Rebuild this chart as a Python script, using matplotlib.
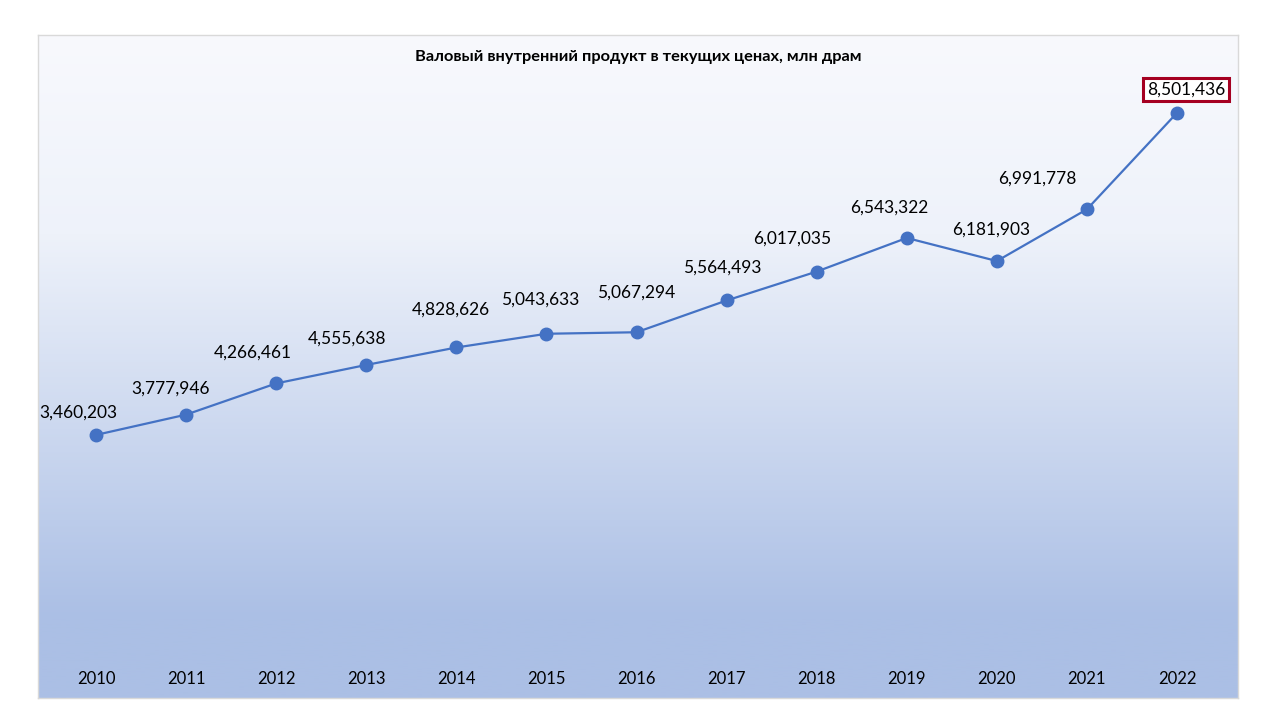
import matplotlib.pyplot as plt
import numpy as np
from matplotlib.colors import LinearSegmentedColormap

years = [2010, 2011, 2012, 2013, 2014, 2015, 2016, 2017, 2018, 2019, 2020, 2021, 2022]
gdp = [3460203, 3777946, 4266461, 4555638, 4828626, 5043633, 5067294,
       5564493, 6017035, 6543322, 6181903, 6991778, 8501436]
title = "Валовый внутренний продукт в текущих ценах, млн драм"

# label offsets in pixels (dx, dy), as placed in the original
offsets = [(-18, 22), (-16, 26), (-23, 31), (-19, 26), (-6, 38), (-6, 34), (0, 40),
           (-4, 33), (-24, 33), (-18, 30), (-6, 31), (-50, 31), (9, 23)]

plt.rcParams['font.family'] = ['Lato', 'DejaVu Sans']

fig = plt.figure(figsize=(12.8, 7.2), dpi=100)
# plot frame: x 38..1238, y 35..698 px
ax = fig.add_axes([38 / 1280, 1 - 698 / 720, 1200 / 1280, 663 / 720])

x0, x1 = 2009.356, 2022.677
y0, y1 = -657600, 9720000

# gradient background, white at top to light blue at bottom
cmap = LinearSegmentedColormap.from_list(
    'bg', [(0, '#f8f9fd'), (0.3, '#eef2fa'), (0.88, '#abbfe5'), (1, '#abbfe5')])
grad = np.linspace(0, 1, 256).reshape(-1, 1)
ax.imshow(grad, cmap=cmap, aspect='auto', extent=[x0, x1, y0, y1],
          zorder=0, origin='upper')
ax.set_xlim(x0, x1)
ax.set_ylim(y0, y1)

ax.plot(years, gdp, color='#4472c4', linewidth=1.6, marker='o', markersize=9,
        markerfacecolor='#4472c4', markeredgecolor='#4472c4', zorder=3)

for i, (yr, v) in enumerate(zip(years, gdp)):
    dx, dy = offsets[i]
    kw = {}
    if i == len(years) - 1:
        kw['bbox'] = dict(boxstyle='square,pad=0.2', facecolor='white',
                          edgecolor='#a50021', linewidth=2.2)
    ax.annotate(f"{v:,}", (yr, v), xytext=(dx, dy), textcoords='offset pixels',
                ha='center', va='center', fontsize=12.5, color='black', zorder=4, **kw)

for yr in years:
    ax.text(yr, 19 / 663, str(yr), transform=ax.get_xaxis_transform(),
            ha='center', va='center', fontsize=12, color='black')

ax.text(0.5, 1 - 22 / 663, title, transform=ax.transAxes, ha='center', va='center',
        fontsize=11.8, fontweight='bold', color='black')

ax.set_xticks([])
ax.set_yticks([])
for s in ax.spines.values():
    s.set_color('#d9d9d9')
    s.set_linewidth(1)

fig.savefig('out.png', dpi=100, facecolor='white')
